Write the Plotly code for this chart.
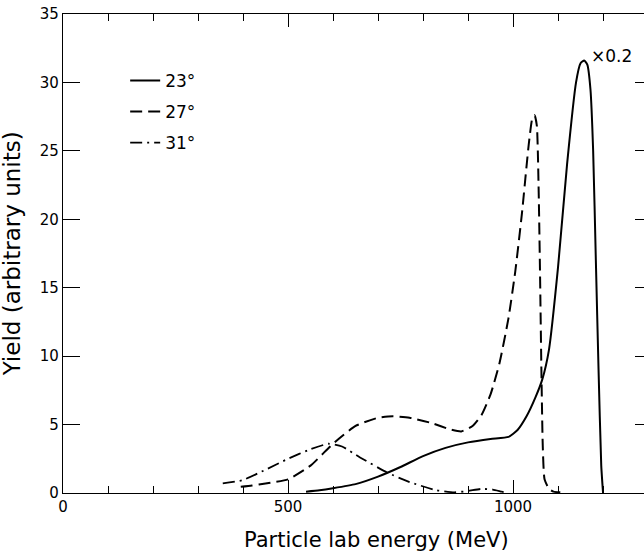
import plotly.graph_objects as go

# Data
e23 = [540, 570, 600, 650, 700, 750, 800, 850, 900, 950, 990, 1010, 1030, 1050, 1065, 1080,
       1100, 1120, 1140, 1150, 1158, 1165, 1172, 1178, 1184, 1190, 1196, 1200]
y23 = [0.1, 0.2, 0.35, 0.65, 1.2, 1.9, 2.7, 3.3, 3.7, 3.95, 4.1, 4.6, 5.6, 7.0, 8.3, 10.5,
       16.5, 24.0, 30.0, 31.4, 31.6, 31.3, 29.5, 25.0, 17.0, 9.0, 2.0, 0.0]

e27 = [395, 420, 450, 500, 550, 600, 650, 700, 733, 770, 820, 860, 885, 910, 930, 950, 970,
       990, 1005, 1020, 1035, 1043, 1048, 1053, 1057, 1060, 1063, 1066, 1070, 1080, 1090, 1105]
y27 = [0.45, 0.55, 0.7, 1.0, 2.0, 3.6, 4.9, 5.5, 5.6, 5.5, 5.1, 4.65, 4.5, 4.9, 5.7, 7.2, 9.5,
       12.8, 16.2, 20.5, 25.5, 27.4, 27.6, 26.8, 22.0, 16.0, 9.0, 3.5, 1.0, 0.3, 0.1, 0.05]

e31 = [355, 400, 450, 500, 550, 590, 620, 660, 720, 770, 830, 870, 900, 930, 955, 975, 990]
y31 = [0.7, 0.95, 1.7, 2.5, 3.2, 3.6, 3.4, 2.6, 1.5, 0.8, 0.2, 0.05, 0.15, 0.3, 0.25, 0.1, 0.0]

labels = ["23°", "27°", "31°"]
x_ticks = [0, 500, 1000]
y_ticks = [0, 5, 10, 15, 20, 25, 30, 35]

FONT = "DejaVu Sans"

fig = go.Figure()
fig.add_trace(go.Scatter(x=e23, y=y23, mode="lines", name=labels[0], legendgroup="a",
                         line=dict(color="black", width=2, shape="spline", smoothing=0.5)))
fig.add_trace(go.Scatter(x=e27, y=y27, mode="lines", name=labels[1], legendgroup="b",
                         line=dict(color="black", width=2, dash="12px,6px", shape="spline", smoothing=0.5)))
fig.add_trace(go.Scatter(x=e31, y=y31, mode="lines", name=labels[2], legendgroup="c",
                         line=dict(color="black", width=1.8, dash="12px,5px,2px,5px", shape="spline", smoothing=0.5)))
# invisible trace for right-side ticks
fig.add_trace(go.Scatter(x=[None], y=[None], yaxis="y2", showlegend=False, hoverinfo="skip"))

fig.add_annotation(x=1168, y=31.9, text="×0.2", showarrow=False, xanchor="left", yanchor="middle",
                   font=dict(family=FONT, size=17, color="black"))
fig.add_annotation(x=0.54, xref="paper", y=-0.098, yref="paper", text="Particle lab energy (MeV)",
                   showarrow=False, xanchor="center", yanchor="middle",
                   font=dict(family=FONT, size=21, color="black"))
fig.add_annotation(x=-0.088, xref="paper", y=0.5, yref="paper", text="Yield (arbitrary units)",
                   showarrow=False, xanchor="center", yanchor="middle", textangle=-90,
                   font=dict(family=FONT, size=23, color="black"))

fig.update_layout(
    width=644, height=555,
    margin=dict(l=63, r=0, t=14, b=62, autoexpand=False),
    paper_bgcolor="white", plot_bgcolor="white",
    font=dict(family=FONT, color="black"),
    showlegend=True,
    legend=dict(x=0.107, y=0.898, xanchor="left", yanchor="top", bgcolor="rgba(0,0,0,0)",
                font=dict(family=FONT, size=17, color="black"), tracegroupgap=6),
    xaxis=dict(range=[0, 1291], tickvals=x_ticks, ticks="inside", ticklen=13, tickwidth=1.2,
               tickcolor="black", showline=True, linecolor="black", linewidth=1.3, mirror="ticks",
               showgrid=False, zeroline=False, tickfont=dict(size=15), automargin=False,
               ticklabeloverflow="allow",
               minor=dict(dtick=100, ticks="inside", ticklen=7, tickcolor="black", tickwidth=1.2)),
    yaxis=dict(range=[0, 35], tickvals=y_ticks, ticks="inside", ticklen=17, tickwidth=1.2,
               tickcolor="black", showline=True, linecolor="black", linewidth=1.3,
               showgrid=False, zeroline=False, tickfont=dict(size=15), automargin=False,
               ticklabeloverflow="allow"),
    yaxis2=dict(range=[0, 35], tickvals=y_ticks, overlaying="y", side="right", ticks="inside",
                ticklen=9, tickwidth=1.2, tickcolor="black", showticklabels=False, automargin=False,
                showline=False, showgrid=False, zeroline=False),
)

fig.write_html("out.html", config={"displayModeBar": False},
               post_script="document.body.style.margin='0';")
